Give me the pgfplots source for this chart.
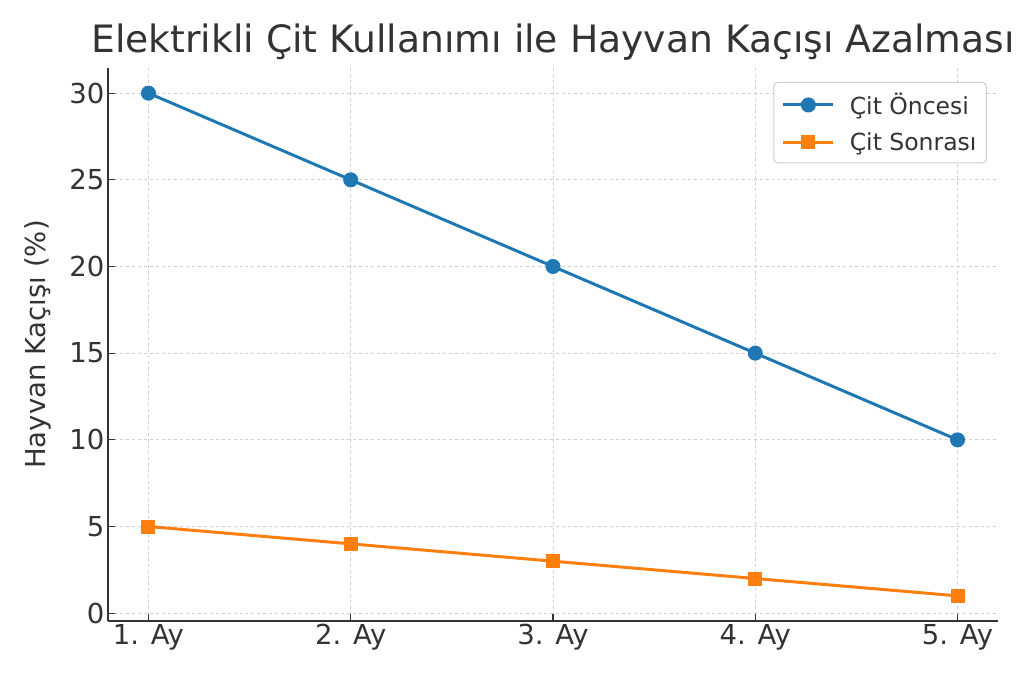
\documentclass[border=0pt]{standalone}
\usepackage{fontspec}
\setmainfont{DejaVu Sans}
\usepackage{pgfplots}
\pgfplotsset{compat=1.18}
\definecolor{c1}{HTML}{1F77B4}
\definecolor{c2}{HTML}{FF7F0E}
\definecolor{txt}{HTML}{333333}
\definecolor{grd}{HTML}{CFCFCF}
\begin{document}
\begin{tikzpicture}
\begin{axis}[
    width=890bp, height=553bp, scale only axis,
    xmin=-0.2, xmax=4.2, ymin=-0.45, ymax=31.45,
    axis x line*=bottom, axis y line*=left,
    axis line style={txt, line width=2bp},
    xtick={0,1,2,3,4},
    xticklabels={1. Ay, 2. Ay, 3. Ay, 4. Ay, 5. Ay},
    ytick={0,5,...,30},
    tick align=inside, major tick length=7bp,
    tick style={txt, line width=1.2bp},
    grid=major, grid style={dashed, grd, line width=1bp},
    ticklabel style={font=\fontsize{27.5bp}{32bp}\selectfont, text=txt},
    /pgf/number format/assume math mode=true,
    ylabel={Hayvan Kaçışı (\%)},
    ylabel shift=11bp,
    ylabel style={font=\fontsize{27.5bp}{32bp}\selectfont, text=txt},
    title={Elektrikli Çit Kullanımı ile Hayvan Kaçışı Azalması},
    title style={font=\fontsize{37.7bp}{42bp}\selectfont, text=txt,
        at={(0.5,1)}, anchor=base, yshift=10bp},
    legend style={at={(0.9876,0.9747)}, anchor=north east,
        draw=grd, rounded corners=4bp, line width=1bp,
        font=\fontsize{23.5bp}{28bp}\selectfont, text=txt,
        inner xsep=8bp, inner ysep=9bp, row sep=12bp, column sep=13bp},
    legend cell align=left,
    legend image code/.code={
        \draw[mark repeat=2, mark phase=2]
            plot coordinates {(0bp,0bp) (25bp,0bp) (50bp,0bp)};
    },
]
% before
\addplot[c1, line width=3bp, mark=*, mark size=6bp,
    mark options={solid}] coordinates {
    (0,30) (1,25) (2,20) (3,15) (4,10)
};
% after
\addplot[c2, line width=3bp, mark=square*, mark size=5.5bp,
    mark options={solid}] coordinates {
    (0,5) (1,4) (2,3) (3,2) (4,1)
};
\legend{Çit Öncesi, Çit Sonrası}
\end{axis}
\pgfresetboundingbox
\path (current axis.south west) ++(-108bp,-62bp) rectangle ++(1024bp,683bp);
\end{tikzpicture}
\end{document}
